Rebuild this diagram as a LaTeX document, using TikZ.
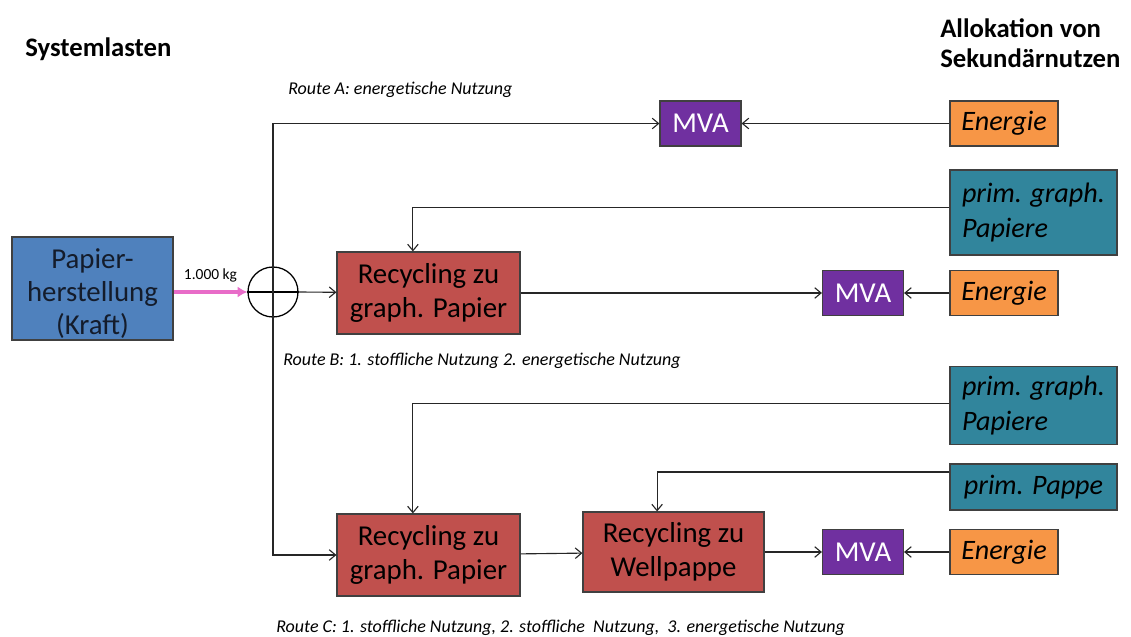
\documentclass[tikz,border=0pt]{standalone}
\usepackage{fontspec}
\setmainfont{Carlito}
\usetikzlibrary{arrows.meta,positioning}
\definecolor{srcblue}{HTML}{4F81BD}
\definecolor{srctext}{HTML}{141C2B}
\definecolor{recred}{HTML}{C0504D}
\definecolor{mvapurple}{HTML}{7030A0}
\definecolor{enorange}{HTML}{F79646}
\definecolor{primteal}{HTML}{31859C}
\definecolor{flowpink}{HTML}{E86CC8}
\tikzset{
    %Define standard arrow tip
    >={Straight Barb[length=4.5pt,width=7.5pt]},
    %Define style for boxes
    box/.style={
           rectangle,
           draw=black!75, line width=0.8pt,
           inner sep=0pt,
           font=\fontsize{20.5}{24}\selectfont,
           align=center},
    source/.style={box, fill=srcblue, minimum width=4.025cm, minimum height=2.575cm},
    recycle/.style={box, fill=recred, minimum width=4.575cm, minimum height=2.05cm},
    mva/.style={box, fill=mvapurple, text=white, minimum width=2.025cm, minimum height=1.125cm},
    credit/.style={box, fill=enorange, font=\fontsize{20}{24}\selectfont\itshape,
           minimum width=2.7cm, minimum height=1.125cm},
    prim/.style={box, fill=primteal, font=\fontsize{20}{25}\selectfont\itshape,
           align=left, minimum width=4.175cm, minimum height=1.95cm},
    route/.style={anchor=west, inner sep=0pt, font=\fontsize{12.8}{15}\selectfont\itshape},
    heading/.style={anchor=north west, inner sep=0pt, align=left,
           font=\fontsize{19}{21.5}\selectfont\bfseries},
    % Define arrow style
    pil/.style={->, line width=0.8pt, draw=black!85}
}

\begin{document}
\begin{tikzpicture}[x=0.025cm, y=-0.025cm]
\useasboundingbox (0,0) rectangle (1131,637);

% headings
\node[heading] (HL) at (25,37) {Systemlasten};
\node[heading] (HR) at (940,18) {Allokation von\\Sekundärnutzen};

% production and split
\node[source] (P) at (92.5,288.5) {};
\node[align=center, text=srctext, font=\fontsize{20.5}{23.5}\selectfont] (Ptxt)
    at ([yshift=-0.12cm]P.center) {Papier-\\herstellung\\(Kraft)};
\node[circle, draw=black, line width=0.9pt, minimum size=1.25cm, inner sep=0pt] (S) at (273,292) {};

% route A
\node[mva] (MA) at (700.5,123.5) {MVA};
\node[credit] (EA) at (1004,123.5) {Energie};
\node[route] (RA) at (288,90) {Route A: energetische Nutzung};

% route B
\node[recycle] (RB) at (428.5,293) {Recycling zu\\graph. Papier};
\node[mva] (MB) at (863,293) {MVA};
\node[credit] (EB) at (1004,293) {Energie};
\node[prim, minimum height=2.125cm] (PB) at (1033.5,212.5) {prim. graph.\\Papiere};
\node[route] (RBl) at (283,361) {Route B: 1. stoffliche Nutzung 2. energetische Nutzung};

% route C
\node[recycle] (RC1) at (428.5,555) {Recycling zu\\graph. Papier};
\node[recycle, minimum width=4.525cm, minimum height=2cm] (RC2) at (673.5,552) {Recycling zu\\Wellpappe};
\node[mva] (MC) at (863,552) {MVA};
\node[credit] (EC) at (1004,552) {Energie};
\node[prim] (PC) at (1033.5,405.5) {prim. graph.\\Papiere};
\node[prim, minimum height=1.15cm] (PP) at (1033.5,487) {prim. Pappe};
\node[route] (RCl) at (276,628) {Route C: 1. stoffliche Nutzung, 2. stoffliche\ \ Nutzung,\ \ 3. energetische Nutzung};

% input flow
\draw[flowpink, line width=2.8pt, -{Latex[length=7pt,width=8pt]}] (P.east |- S.west) -- node[above=2pt, black, font=\fontsize{11}{13}\selectfont] (kg) {1.000 kg} (S.west);

% split into the three routes
\draw[line width=0.8pt] (S.west) -- (S.east);
\draw[pil] (S.center) |- (MA);
\draw[pil] (S.center) |- (RC1);
\draw[pil] (S.east) -- (RB);

% route A
\draw[pil] (EA) -- (MA);

% route B
\draw[pil] (RB) -- (MB);
\draw[pil] (EB) -- (MB);
\draw[pil] ([yshift=0.125cm]PB.west) -| ([xshift=-0.39cm]RB.north);

% route C
\draw[pil] (RC1) -- (RC2);
\draw[pil] (RC2) -- (MC);
\draw[pil] (EC) -- (MC);
\draw[pil] ([yshift=0.05cm]PC.west) -| ([xshift=-0.39cm]RC1.north);
\draw[pil] ([yshift=0.375cm]PP.west) -| ([xshift=-0.41cm]RC2.north);
\end{tikzpicture}
\end{document}
